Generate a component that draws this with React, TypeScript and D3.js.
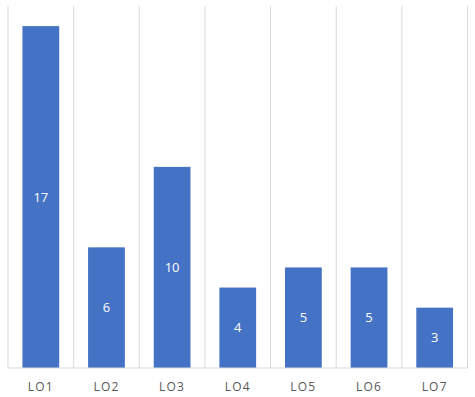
import React from "react";
import * as d3 from "d3";

const categories = ["LO1", "LO2", "LO3", "LO4", "LO5", "LO6", "LO7"];
const values = [17, 6, 10, 4, 5, 5, 3];
const yMax = 18;

const W = 475;
const H = 397;
const margin = { left: 8, right: 7.5, top: 6, bottom: 29 };

export default function App() {
    const x = d3.scaleBand<string>()
        .domain(categories)
        .range([margin.left, W - margin.right])
        .paddingInner(0)
        .paddingOuter(0);
    const y = d3.scaleLinear()
        .domain([0, yMax])
        .range([H - margin.bottom, margin.top]);

    const bw = x.bandwidth() * 0.56;
    const base = y(0);

    return (
        <svg width={W} height={H} style={{ position: "absolute", left: 0, top: 0, background: "#fff" }}>
            {/* vertical category separators */}
            {categories.concat(["__end"]).map((c, i) => {
                const gx = i < categories.length ? (x(c) ?? 0) : W - margin.right;
                return <line key={"g" + i} x1={gx} x2={gx} y1={y(yMax)} y2={base}
                    stroke="#d9d9d9" strokeWidth={1} />;
            })}
            {categories.map((c, i) => {
                const cx = (x(c) ?? 0) + x.bandwidth() / 2;
                const top = y(values[i]);
                return <g key={c}>
                    <rect x={cx - bw / 2} y={top} width={bw} height={base - top} fill="#4472c4" />
                    <text x={cx} y={(top + base) / 2} dy="0.35em" textAnchor="middle"
                        fill="#fff" fontSize={13} fontFamily="'Open Sans', sans-serif">{values[i]}</text>
                    <text x={cx} y={base + 18.5} dy="0.35em" textAnchor="middle"
                        fill="#595959" fontSize={12} letterSpacing={1.2}
                        fontFamily="'Open Sans', sans-serif">{c}</text>
                </g>;
            })}
            <line x1={margin.left} x2={W - margin.right} y1={base} y2={base} stroke="#d9d9d9" strokeWidth={1} />
        </svg>
    );
}
